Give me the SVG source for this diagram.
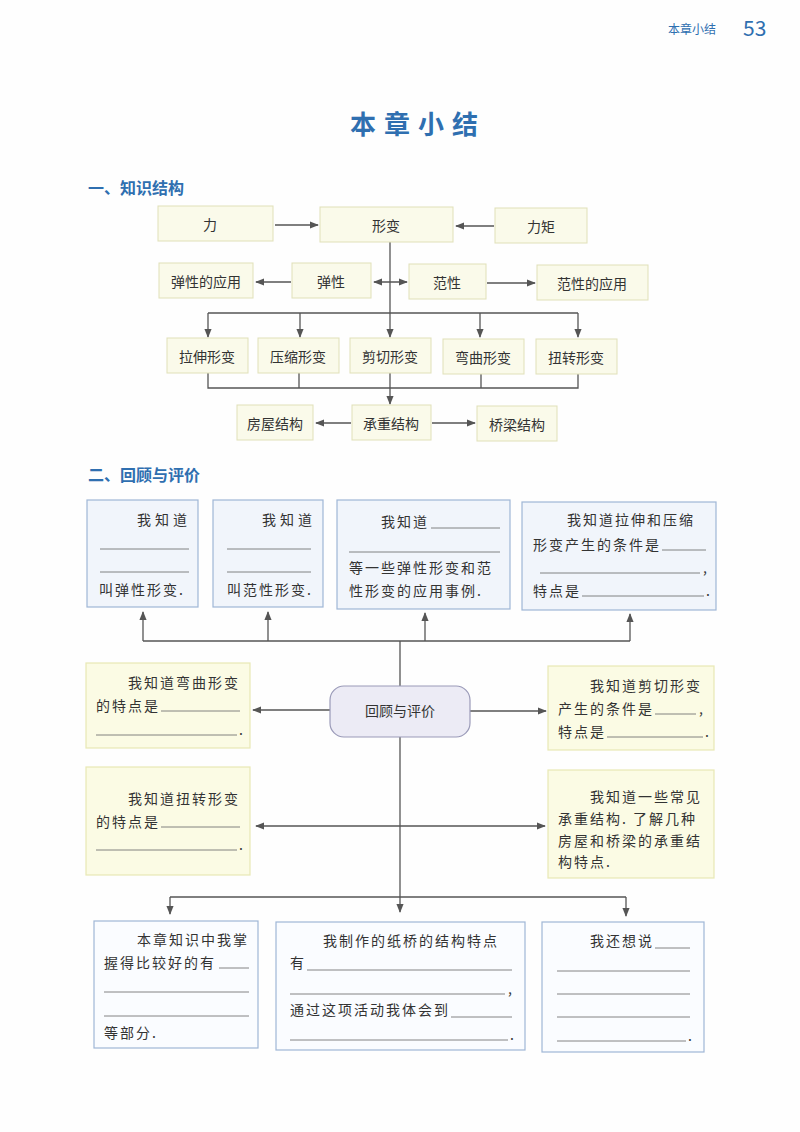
<svg xmlns="http://www.w3.org/2000/svg" width="800" height="1132" viewBox="0 0 800 1132">
<defs>
<marker id="ah" viewBox="0 0 10 10" refX="9" refY="5" markerWidth="7" markerHeight="7" orient="auto-start-reverse"><path d="M0,1 L10,5 L0,9 z" fill="#555"/></marker>
<style>
text{font-family:"Noto Sans CJK SC","Liberation Sans",sans-serif;fill:#333;font-size:14px}
.c{text-anchor:middle}
.s text{letter-spacing:2px}
.kb{fill:#fafaea;stroke:#e0e0b8;stroke-width:1}
.bb{fill:#f1f5fb;stroke:#9fb6d6;stroke-width:1.2}
.yb{fill:#fbfbe4;stroke:#e8e8b4;stroke-width:1.2}
.wb{fill:#fafcff;stroke:#9fb6d6;stroke-width:1.2}
.ln{stroke:#555;stroke-width:1.3;fill:none}
.ul{stroke:#666;stroke-width:0.8}
.h{fill:#2f6fb0;font-weight:bold;font-size:16px}
</style>
</defs>
<rect width="800" height="1132" fill="#fefefe"/>
<text x="668" y="34" style="font-size:12px;fill:#2f6fb0">本章小结</text>
<text x="743" y="36" style="font-size:21px;fill:#2f6fb0">53</text>
<text x="418" y="134" class="c" style="font-size:26px;font-weight:bold;fill:#2f6fb0;letter-spacing:8px">本章小结</text>
<text x="88" y="194" class="h">一、知识结构</text>
<text x="88" y="481" class="h">二、回顾与评价</text>

<g id="connectors">
<line class="ln" x1="275" y1="225" x2="318" y2="225" marker-end="url(#ah)"/>
<line class="ln" x1="494" y1="226" x2="456" y2="226" marker-end="url(#ah)"/>
<line class="ln" x1="390" y1="242" x2="390" y2="337" marker-end="url(#ah)"/>
<line class="ln" x1="374" y1="282" x2="407" y2="282" marker-start="url(#ah)" marker-end="url(#ah)"/>
<line class="ln" x1="291" y1="282" x2="256" y2="282" marker-end="url(#ah)"/>
<line class="ln" x1="487" y1="283" x2="535" y2="283" marker-end="url(#ah)"/>
<path class="ln" d="M208,313 H578"/>
<line class="ln" x1="208" y1="313" x2="208" y2="337" marker-end="url(#ah)"/>
<line class="ln" x1="300" y1="313" x2="300" y2="337" marker-end="url(#ah)"/>
<line class="ln" x1="480" y1="313" x2="480" y2="337" marker-end="url(#ah)"/>
<line class="ln" x1="578" y1="313" x2="578" y2="337" marker-end="url(#ah)"/>
<path class="ln" d="M208,373 V388 H578 V373 M299,373 V388 M481,373 V388"/>
<line class="ln" x1="390" y1="373" x2="390" y2="404" marker-end="url(#ah)"/>
<line class="ln" x1="351" y1="423" x2="316" y2="423" marker-end="url(#ah)"/>
<line class="ln" x1="432" y1="423" x2="475" y2="423" marker-end="url(#ah)"/>

<path class="ln" d="M143,641 H630 M400,641 V686"/>
<line class="ln" x1="143" y1="641" x2="143" y2="612" marker-end="url(#ah)"/>
<line class="ln" x1="268" y1="641" x2="268" y2="612" marker-end="url(#ah)"/>
<line class="ln" x1="425" y1="641" x2="425" y2="613" marker-end="url(#ah)"/>
<line class="ln" x1="630" y1="641" x2="630" y2="614" marker-end="url(#ah)"/>
<line class="ln" x1="330" y1="710" x2="253" y2="710" marker-end="url(#ah)"/>
<line class="ln" x1="470" y1="711" x2="546" y2="711" marker-end="url(#ah)"/>
<line class="ln" x1="400" y1="737" x2="400" y2="912" marker-end="url(#ah)"/>
<line class="ln" x1="256" y1="826" x2="545" y2="826" marker-start="url(#ah)" marker-end="url(#ah)"/>
<path class="ln" d="M170,897 H626"/>
<line class="ln" x1="170" y1="897" x2="170" y2="914" marker-end="url(#ah)"/>
<line class="ln" x1="626" y1="897" x2="626" y2="916" marker-end="url(#ah)"/>
</g>

<g id="n-li"><rect class="kb" x="158" y="206" width="115" height="35"/><text x="210" y="230" class="c">力</text></g>
<g id="n-xingbian"><rect class="kb" x="320" y="207" width="133" height="35"/><text x="386" y="231" class="c">形变</text></g>
<g id="n-liju"><rect class="kb" x="495" y="208" width="92" height="35"/><text x="541" y="232" class="c">力矩</text></g>
<g id="n-tanxingyy"><rect class="kb" x="159" y="263" width="94" height="35"/><text x="206" y="287" class="c">弹性的应用</text></g>
<g id="n-tanxing"><rect class="kb" x="292" y="263" width="79" height="35"/><text x="331" y="287" class="c">弹性</text></g>
<g id="n-fanxing"><rect class="kb" x="409" y="264" width="77" height="35"/><text x="447" y="288" class="c">范性</text></g>
<g id="n-fanxingyy"><rect class="kb" x="537" y="265" width="111" height="35"/><text x="592" y="289" class="c">范性的应用</text></g>
<g id="n-lashen"><rect class="kb" x="167" y="338" width="81" height="35"/><text x="207" y="362" class="c">拉伸形变</text></g>
<g id="n-yasuo"><rect class="kb" x="258" y="338" width="81" height="35"/><text x="298" y="362" class="c">压缩形变</text></g>
<g id="n-jianqie"><rect class="kb" x="350" y="338" width="81" height="35"/><text x="390" y="362" class="c">剪切形变</text></g>
<g id="n-wanqu"><rect class="kb" x="443" y="339" width="81" height="35"/><text x="483" y="363" class="c">弯曲形变</text></g>
<g id="n-niuzhuan"><rect class="kb" x="536" y="339" width="81" height="35"/><text x="576" y="363" class="c">扭转形变</text></g>
<g id="n-fangwu"><rect class="kb" x="237" y="405" width="76" height="35"/><text x="275" y="429" class="c">房屋结构</text></g>
<g id="n-chengzhong"><rect class="kb" x="352" y="405" width="79" height="35"/><text x="391" y="429" class="c">承重结构</text></g>
<g id="n-qiaoliang"><rect class="kb" x="477" y="406" width="80" height="35"/><text x="517" y="430" class="c">桥梁结构</text></g>

<g id="b-a" class="s"><rect class="bb" x="87" y="500" width="111" height="107"/>
<text x="137" y="525" style="letter-spacing:4px">我知道</text>
<line class="ul" x1="100" y1="549" x2="189" y2="549"/><line class="ul" x1="100" y1="572" x2="189" y2="572"/>
<text x="99" y="595">叫弹性形变.</text></g>
<g id="b-b" class="s"><rect class="bb" x="213" y="500" width="110" height="107"/>
<text x="262" y="525" style="letter-spacing:4px">我知道</text>
<line class="ul" x1="227" y1="549" x2="311" y2="549"/><line class="ul" x1="227" y1="572" x2="311" y2="572"/>
<text x="227" y="595">叫范性形变.</text></g>
<g id="b-c" class="s"><rect class="bb" x="337" y="500" width="173" height="109"/>
<text x="381" y="527">我知道</text>
<line class="ul" x1="431" y1="528" x2="500" y2="528"/><line class="ul" x1="349" y1="552" x2="500" y2="552"/>
<text x="349" y="573">等一些弹性形变和范</text>
<text x="349" y="596">性形变的应用事例.</text></g>
<g id="b-d" class="s"><rect class="bb" x="522" y="502" width="194" height="108"/>
<text x="567" y="525">我知道拉伸和压缩</text>
<text x="533" y="550">形变产生的条件是</text><line class="ul" x1="662" y1="550" x2="706" y2="550"/>
<line class="ul" x1="540" y1="573" x2="700" y2="573"/><text x="703" y="573">,</text>
<text x="533" y="596">特点是</text><line class="ul" x1="582" y1="596" x2="704" y2="596"/><text x="706" y="596">.</text></g>

<g id="n-center"><rect x="330" y="686" width="140" height="51" rx="14" fill="#ecebf5" stroke="#9a9ab8" stroke-width="1.2"/><text x="400" y="716" class="c">回顾与评价</text></g>

<g id="b-e" class="s"><rect class="yb" x="86" y="663" width="164" height="85"/>
<text x="128" y="688">我知道弯曲形变</text>
<text x="96" y="711">的特点是</text><line class="ul" x1="161" y1="711" x2="240" y2="711"/>
<line class="ul" x1="96" y1="735" x2="237" y2="735"/><text x="239" y="735">.</text></g>
<g id="b-f" class="s"><rect class="yb" x="548" y="666" width="166" height="84"/>
<text x="590" y="691">我知道剪切形变</text>
<text x="558" y="714">产生的条件是</text><line class="ul" x1="655" y1="714" x2="696" y2="714"/><text x="699" y="714">,</text>
<text x="558" y="737">特点是</text><line class="ul" x1="607" y1="737" x2="703" y2="737"/><text x="705" y="737">.</text></g>
<g id="b-g" class="s"><rect class="yb" x="86" y="767" width="164" height="108"/>
<text x="128" y="804">我知道扭转形变</text>
<text x="96" y="827">的特点是</text><line class="ul" x1="161" y1="827" x2="240" y2="827"/>
<line class="ul" x1="96" y1="850" x2="237" y2="850"/><text x="239" y="850">.</text></g>
<g id="b-h" class="s"><rect class="yb" x="548" y="770" width="166" height="108"/>
<text x="590" y="802">我知道一些常见</text>
<text x="558" y="824">承重结构. 了解几种</text>
<text x="558" y="846">房屋和桥梁的承重结</text>
<text x="558" y="867">构特点.</text></g>

<g id="b-i" class="s"><rect class="wb" x="94" y="921" width="164" height="127"/>
<text x="137" y="945">本章知识中我掌</text>
<text x="104" y="968">握得比较好的有</text><line class="ul" x1="219" y1="968" x2="249" y2="968"/>
<line class="ul" x1="104" y1="992" x2="249" y2="992"/><line class="ul" x1="104" y1="1016" x2="249" y2="1016"/>
<text x="104" y="1038">等部分.</text></g>
<g id="b-j" class="s"><rect class="wb" x="276" y="922" width="249" height="128"/>
<text x="323" y="946">我制作的纸桥的结构特点</text>
<text x="290" y="968">有</text><line class="ul" x1="307" y1="970" x2="512" y2="970"/>
<line class="ul" x1="290" y1="994" x2="505" y2="994"/><text x="508" y="994">,</text>
<text x="290" y="1015">通过这项活动我体会到</text><line class="ul" x1="451" y1="1017" x2="512" y2="1017"/>
<line class="ul" x1="290" y1="1040" x2="508" y2="1040"/><text x="510" y="1040">.</text></g>
<g id="b-k" class="s"><rect class="wb" x="542" y="922" width="162" height="130"/>
<text x="590" y="946">我还想说</text><line class="ul" x1="655" y1="948" x2="690" y2="948"/>
<line class="ul" x1="557" y1="971" x2="690" y2="971"/><line class="ul" x1="557" y1="994" x2="690" y2="994"/>
<line class="ul" x1="557" y1="1017" x2="690" y2="1017"/><line class="ul" x1="557" y1="1041" x2="686" y2="1041"/><text x="688" y="1041">.</text></g>
</svg>
